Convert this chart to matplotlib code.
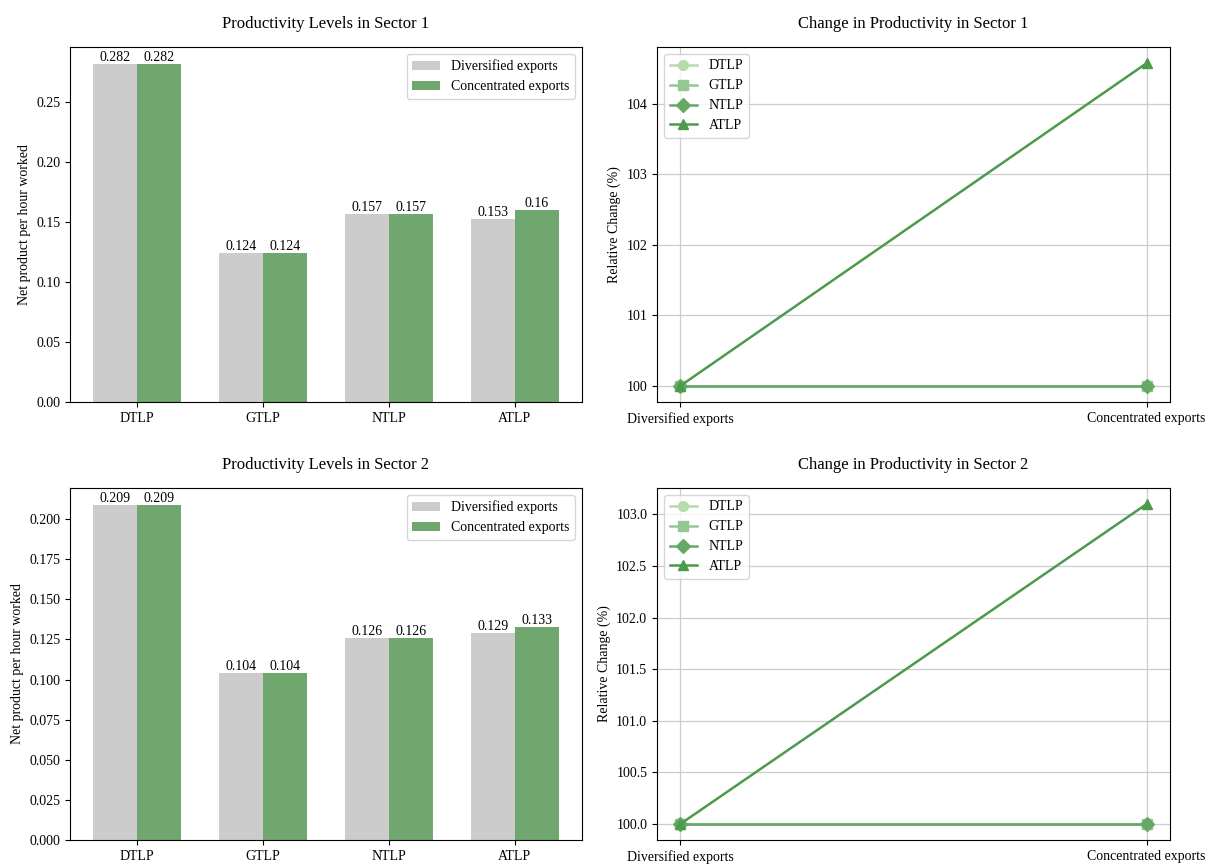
import numpy as np
import matplotlib
matplotlib.use("Agg")
import matplotlib.pyplot as plt

plt.rcParams['font.family'] = ['Liberation Serif', 'DejaVu Serif']
plt.rcParams['font.size'] = 10

# Data
measures = ['DTLP', 'GTLP', 'NTLP', 'ATLP']
scenarios = ['Diversified exports', 'Concentrated exports']

s1_div = [0.282, 0.124, 0.157, 0.153]
s1_con = [0.282, 0.124, 0.157, 0.160]
s2_div = [0.209, 0.104, 0.126, 0.129]
s2_con = [0.209, 0.104, 0.126, 0.133]

# relative change (%), diversified = 100
s1_change = {'DTLP': [100, 100], 'GTLP': [100, 100], 'NTLP': [100, 100], 'ATLP': [100, 104.58]}
s2_change = {'DTLP': [100, 100], 'GTLP': [100, 100], 'NTLP': [100, 100], 'ATLP': [100, 103.10]}

grey = '#cccccc'
green = '#6fa76f'
line_colors = ['#b5dcaa', '#93c793', '#66a866', '#4c9a4c']
markers = ['o', 's', 'D', '^']

fig = plt.figure(figsize=(12.1, 8.65), dpi=100)
W, H = 1210, 865
def box(x0, y0, x1, y1):
    return [x0 / W, 1 - y1 / H, (x1 - x0) / W, (y1 - y0) / H]

ax_bar1 = fig.add_axes(box(70, 47, 582, 402))
ax_bar2 = fig.add_axes(box(70, 488, 582, 840))
ax_line1 = fig.add_axes(box(657, 47, 1170, 402))
ax_line2 = fig.add_axes(box(657, 488, 1170, 840))

x = np.arange(len(measures))
w = 0.35

def bar_panel(ax, div, con, title):
    b1 = ax.bar(x - w / 2, div, w, color=grey, label=scenarios[0])
    b2 = ax.bar(x + w / 2, con, w, color=green, label=scenarios[1])
    ax.bar_label(b1, labels=[f'{v:g}' for v in div], padding=0)
    ax.bar_label(b2, labels=[f'{v:g}' for v in con], padding=0)
    ax.set_xticks(x)
    ax.set_xticklabels(measures)
    ax.set_ylabel('Net product per hour worked')
    ax.set_title(title, fontsize=12, pad=14)
    ax.legend(loc='upper right')

def line_panel(ax, change, title):
    for m, c, mk in zip(measures, line_colors, markers):
        ax.plot([0, 1], change[m], marker=mk, color=c, label=m, linewidth=1.8, markersize=7)
    ax.set_xticks([0, 1])
    ax.set_xticklabels(scenarios)
    ax.set_ylabel('Relative Change (%)')
    ax.set_title(title, fontsize=12, pad=14)
    ax.grid(True, color='#cccccc', linewidth=0.9)
    ax.legend(loc='upper left')

bar_panel(ax_bar1, s1_div, s1_con, 'Productivity Levels in Sector 1')
bar_panel(ax_bar2, s2_div, s2_con, 'Productivity Levels in Sector 2')
line_panel(ax_line1, s1_change, 'Change in Productivity in Sector 1')
line_panel(ax_line2, s2_change, 'Change in Productivity in Sector 2')

fig.savefig('out.png', dpi=100)
